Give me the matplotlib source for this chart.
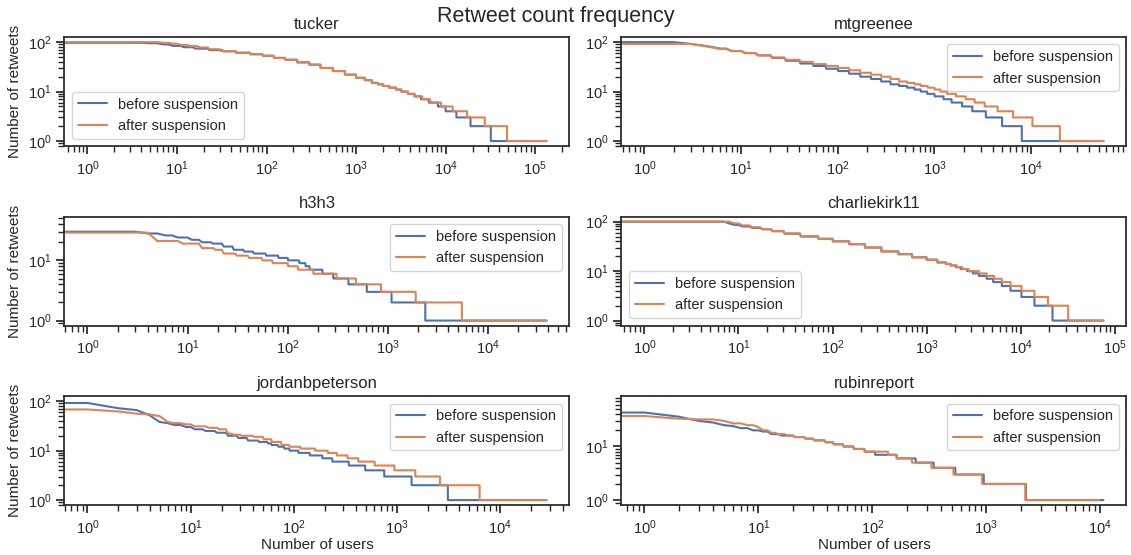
import numpy as np
import matplotlib
matplotlib.use('Agg')
import matplotlib.pyplot as plt
import seaborn as sns

sns.set_theme(style='ticks')
plt.rcParams['font.family'] = ['Liberation Sans', 'DejaVu Sans']

#%% data: last rank reached by each retweet count (sorted, descending)
accounts = ['tucker', 'mtgreenee', 'h3h3', 'charliekirk11', 'jordanbpeterson', 'rubinreport']
labels = ['before suspension', 'after suspension']

tucker_b_rank = [0, 4, 6, 8, 11, 15, 22, 32, 45, 65, 90, 120, 160, 220, 300, 400, 550, 750, 1000, 1250,
                 1500, 1750, 2000, 2350, 2800, 3200, 3800, 4500, 5300, 6500, 8200, 10000, 13200, 19000, 32000, 134000]
tucker_b_count = [100, 97, 95, 90, 84, 79, 74, 69, 65, 61, 57, 53, 48, 44, 39, 35, 30, 26, 22, 19,
                  17, 15, 14, 13, 12, 11, 10, 9, 8, 7, 6, 5, 4, 3, 2, 1]
tucker_a_rank = [0, 6, 8, 10, 13, 17, 22, 30, 45, 65, 90, 120, 160, 220, 300, 400, 550, 750, 1000, 1250,
                 1500, 1750, 2000, 2350, 2800, 3200, 3800, 4500, 5500, 6700, 8900, 12000, 17400, 27400, 48500, 134000]
tucker_a_count = [100, 100, 97, 93, 88, 83, 78, 72, 66, 61, 57, 53, 48, 44, 39, 35, 30, 26, 22, 19,
                  17, 15, 14, 13, 12, 11, 10, 9, 8, 7, 6, 5, 4, 3, 2, 1]

mtg_b_rank = [0, 2, 3, 4, 5, 7, 10, 14, 20, 28, 40, 55, 75, 100, 130, 170, 220, 280, 350, 430,
              520, 620, 720, 840, 1000, 1240, 1500, 1930, 2460, 3400, 5000, 8000, 56000]
mtg_b_count = [100, 100, 92, 85, 80, 74, 66, 60, 54, 48, 42, 37, 33, 29, 26, 23, 20, 18, 16, 14,
               13, 12, 11, 10, 9, 8, 7, 6, 5, 4, 3, 2, 1]
mtg_a_rank = [0, 3, 4, 5, 7, 10, 14, 20, 28, 40, 55, 75, 100, 130, 170, 220, 280, 350, 430, 520,
              620, 720, 850, 1000, 1150, 1350, 1670, 2100, 2600, 3300, 4500, 6500, 10300, 19800, 56000]
mtg_a_count = [92, 92, 85, 78, 73, 66, 60, 54, 49, 44, 40, 36, 33, 30, 27, 24, 22, 20, 18, 16,
               15, 14, 13, 12, 11, 10, 9, 8, 7, 6, 5, 4, 3, 2, 1]

h3h3_b_rank = [0, 3, 5, 7, 10, 13, 17, 22, 28, 36, 45, 60, 80, 100, 130, 150, 165, 222, 285, 404,
               617, 1090, 2370, 38500]
h3h3_b_count = [44, 30, 28, 26, 24, 22, 20, 19, 17, 15, 14, 13, 12, 11, 10, 9, 8, 7, 6, 5, 4, 3, 2, 1]
h3h3_a_rank = [0, 4, 8, 13, 18, 22, 30, 40, 55, 70, 100, 126, 180, 307, 480, 855, 1900, 5500, 38500]
h3h3_a_count = [30, 29, 21, 19, 16, 15, 13, 12, 11, 10, 9, 8, 7, 6, 5, 4, 3, 2, 1]

charlie_b_rank = [0, 7, 8, 10, 13, 17, 22, 30, 45, 70, 100, 150, 220, 330, 500, 700, 1000, 1300, 1600, 1800,
                  2050, 2300, 2700, 3100, 3600, 4350, 5100, 6300, 7800, 10200, 14000, 21800, 76000]
charlie_b_count = [100, 100, 92, 86, 80, 75, 70, 64, 57, 50, 45, 40, 35, 30, 25, 22, 19, 17, 15, 14,
                   13, 12, 11, 10, 9, 8, 7, 6, 5, 4, 3, 2, 1]
charlie_a_rank = [0, 8, 10, 13, 17, 22, 30, 45, 70, 100, 150, 220, 330, 500, 700, 1000, 1300, 1600, 1800, 2100,
                  2400, 2800, 3600, 4350, 5200, 6300, 7800, 10200, 14000, 19500, 32000, 76000]
charlie_a_count = [100, 100, 92, 84, 77, 71, 65, 58, 51, 45, 40, 35, 30, 25, 22, 19, 17, 15, 14, 13,
                   12, 11, 10, 9, 8, 7, 6, 5, 4, 3, 2, 1]

jordan_b_rank = [0, 1, 2, 3, 4, 5, 6, 8, 10, 13, 17, 22, 28, 35, 45, 55, 60, 70, 80, 90,
                 110, 142, 188, 235, 340, 490, 750, 1380, 3100, 28000]
jordan_b_count = [100, 92, 72, 66, 52, 38, 36, 33, 30, 27, 25, 23, 20, 18, 16, 15, 14, 13, 12, 11,
                  10, 9, 8, 7, 6, 5, 4, 3, 2, 1]
jordan_a_rank = [0, 1, 2, 3, 4, 5, 6, 8, 10, 14, 18, 22, 25, 30, 40, 50, 60, 75, 90, 115,
                 160, 212, 260, 330, 420, 605, 940, 1500, 2600, 6300, 28000]
jordan_a_count = [70, 68, 62, 56, 54, 50, 38, 36, 34, 31, 29, 27, 22, 21, 20, 19, 17, 15, 13, 12,
                  11, 10, 9, 8, 7, 6, 5, 4, 3, 2, 1]

rubin_b_rank = [0, 1, 2, 3, 4, 5, 6, 8, 10, 12, 15, 20, 25, 30, 38, 45, 55, 68, 85, 105,
                163, 240, 345, 535, 950, 2230, 10700]
rubin_b_count = [70, 43, 36, 30, 28, 25, 24, 22, 20, 19, 17, 16, 15, 14, 13, 12, 11, 10, 9, 8,
                 7, 6, 5, 4, 3, 2, 1]
rubin_a_rank = [0, 1, 2, 4, 5, 7, 9, 10, 12, 14, 17, 20, 25, 30, 38, 45, 55, 68, 85, 137,
                163, 222, 330, 515, 920, 2200, 9800]
rubin_a_count = [37, 37, 33, 32, 30, 27, 25, 23, 20, 18, 17, 16, 15, 14, 13, 12, 11, 10, 9, 8,
                 7, 6, 5, 4, 3, 2, 1]

series = [
    ((tucker_b_rank, tucker_b_count), (tucker_a_rank, tucker_a_count)),
    ((mtg_b_rank, mtg_b_count), (mtg_a_rank, mtg_a_count)),
    ((h3h3_b_rank, h3h3_b_count), (h3h3_a_rank, h3h3_a_count)),
    ((charlie_b_rank, charlie_b_count), (charlie_a_rank, charlie_a_count)),
    ((jordan_b_rank, jordan_b_count), (jordan_a_rank, jordan_a_count)),
    ((rubin_b_rank, rubin_b_count), (rubin_a_rank, rubin_a_count)),
]
legend_loc = ['lower left', 'upper right', 'upper right', 'lower left', 'upper right', 'upper right']


def vertices(ranks, counts):
    # each count holds from the rank after the previous one up to its own last rank
    xs, ys = [], []
    start = 0
    for r, c in zip(ranks, counts):
        xs += [start, r]
        ys += [c, c]
        start = r + 1
    return xs, ys


#%% plot
fig, axes = plt.subplots(3, 2, figsize=(11.31, 5.55), dpi=100)
plt.subplots_adjust(left=0.057, right=0.996, top=0.933, bottom=0.09, wspace=0.103, hspace=0.65)

for i, ax in enumerate(axes.flat):
    for (rank, count), lab in zip(series[i], labels):
        x, y = vertices(rank, count)
        ax.plot(x, y, label=lab)
    ax.set_xscale('log')
    ax.set_yscale('log')
    ax.tick_params(labelsize=10.5)
    ax.set_title(accounts[i], fontsize=12)
    ax.legend(loc=legend_loc[i], fontsize=10.5)
    if i % 2 == 0:
        ax.set_ylabel('Number of retweets', fontsize=11)
    if i >= 4:
        ax.set_xlabel('Number of users', fontsize=11, labelpad=1)

fig.suptitle('Retweet count frequency', fontsize=15.5, x=0.491, y=0.99)
plt.savefig('out.png')
